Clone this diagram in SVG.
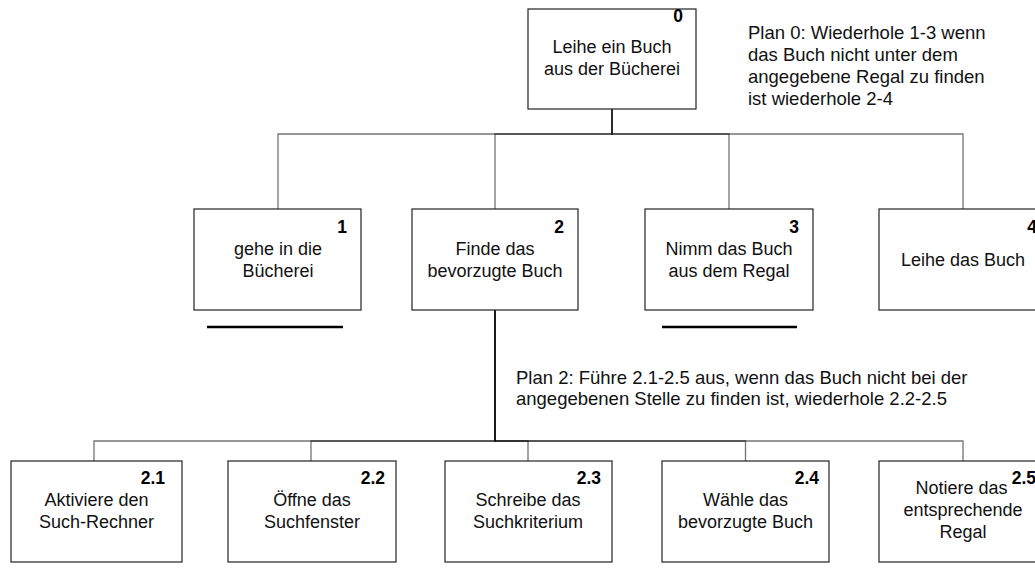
<svg xmlns="http://www.w3.org/2000/svg" width="1035" height="578" viewBox="0 0 1035 578">
  <style>
    .box { fill: #fff; stroke: #222; stroke-width: 1.2; }
    .lbl { font-family: "Liberation Sans", Arial, sans-serif; font-size: 18px; fill: #111; text-anchor: middle; }
    .num { font-family: "Liberation Sans", Arial, sans-serif; font-size: 17.5px; font-weight: bold; fill: #000; text-anchor: end; }
    .plan { font-family: "Liberation Sans", Arial, sans-serif; font-size: 18.5px; fill: #111; }
    .conn { fill: none; stroke: #000; stroke-opacity: 0.55; stroke-width: 1.3; }
    .bar { stroke: #000; stroke-width: 2.4; }
  </style>

  <rect width="1035" height="578" fill="#fff"/>

  <!-- tree connectors -->
  <g id="connectors">
    <path class="conn" d="M612 109 V134 H278 V209"/>
    <path class="conn" d="M612 109 V134 H495 V209"/>
    <path class="conn" d="M612 109 V134 H729 V209"/>
    <path class="conn" d="M612 109 V134 H963 V209"/>
    <path class="conn" d="M495 310 V441 H94 V461"/>
    <path class="conn" d="M495 310 V441 H311 V461"/>
    <path class="conn" d="M495 310 V441 H528 V461"/>
    <path class="conn" d="M495 310 V441 H745.5 V461"/>
    <path class="conn" d="M495 310 V441 H963 V461"/>
  </g>

  <g id="n0">
    <rect class="box" x="528" y="9" width="168" height="100"/>
    <text class="num" x="683" y="22">0</text>
    <text class="lbl" x="612" y="53">Leihe ein Buch</text>
    <text class="lbl" x="612" y="75">aus der Bücherei</text>
  </g>

  <g id="plan0">
    <text class="plan" x="748" y="39">Plan 0: Wiederhole 1-3 wenn</text>
    <text class="plan" x="748" y="61">das Buch nicht unter dem</text>
    <text class="plan" x="748" y="83">angegebene Regal zu finden</text>
    <text class="plan" x="748" y="105">ist wiederhole 2-4</text>
  </g>

  <g id="n1">
    <rect class="box" x="194" y="209" width="167" height="101"/>
    <text class="num" x="347" y="233">1</text>
    <text class="lbl" x="278" y="255">gehe in die</text>
    <text class="lbl" x="278" y="277">Bücherei</text>
    <line class="bar" x1="207" y1="327" x2="343" y2="327"/>
  </g>

  <g id="n2">
    <rect class="box" x="412" y="209" width="166" height="101"/>
    <text class="num" x="564" y="233">2</text>
    <text class="lbl" x="495" y="255">Finde das</text>
    <text class="lbl" x="495" y="277">bevorzugte Buch</text>
  </g>

  <g id="n3">
    <rect class="box" x="645" y="209" width="168" height="101"/>
    <text class="num" x="799" y="233">3</text>
    <text class="lbl" x="729" y="255">Nimm das Buch</text>
    <text class="lbl" x="729" y="277">aus dem Regal</text>
    <line class="bar" x1="662" y1="327" x2="797" y2="327"/>
  </g>

  <g id="n4">
    <rect class="box" x="879" y="209" width="168" height="101"/>
    <text class="num" x="1037" y="233">4</text>
    <text class="lbl" x="963" y="266">Leihe das Buch</text>
  </g>

  <g id="plan2">
    <text class="plan" x="516" y="384">Plan 2: Führe 2.1-2.5 aus, wenn das Buch nicht bei der</text>
    <text class="plan" x="516" y="405">angegebenen Stelle zu finden ist, wiederhole 2.2-2.5</text>
  </g>

  <g id="n2_1">
    <rect class="box" x="11" y="461" width="171" height="101"/>
    <text class="num" x="165" y="484">2.1</text>
    <text class="lbl" x="96.5" y="506">Aktiviere den</text>
    <text class="lbl" x="96.5" y="528">Such-Rechner</text>
  </g>

  <g id="n2_2">
    <rect class="box" x="228" y="461" width="168" height="101"/>
    <text class="num" x="385" y="484">2.2</text>
    <text class="lbl" x="312" y="506">Öffne das</text>
    <text class="lbl" x="312" y="528">Suchfenster</text>
  </g>

  <g id="n2_3">
    <rect class="box" x="445" y="461" width="167" height="101"/>
    <text class="num" x="601" y="484">2.3</text>
    <text class="lbl" x="528" y="506">Schreibe das</text>
    <text class="lbl" x="528" y="528">Suchkriterium</text>
  </g>

  <g id="n2_4">
    <rect class="box" x="662" y="461" width="167" height="101"/>
    <text class="num" x="819" y="484">2.4</text>
    <text class="lbl" x="745.5" y="506">Wähle das</text>
    <text class="lbl" x="745.5" y="528">bevorzugte Buch</text>
  </g>

  <g id="n2_5">
    <rect class="box" x="879" y="461" width="168" height="101"/>
    <text class="lbl" x="961.5" y="494">Notiere das</text>
    <text class="lbl" x="963" y="516">entsprechende</text>
    <text class="lbl" x="963" y="538">Regal</text>
    <text class="num" x="1036" y="484">2.5</text>
  </g>
</svg>
